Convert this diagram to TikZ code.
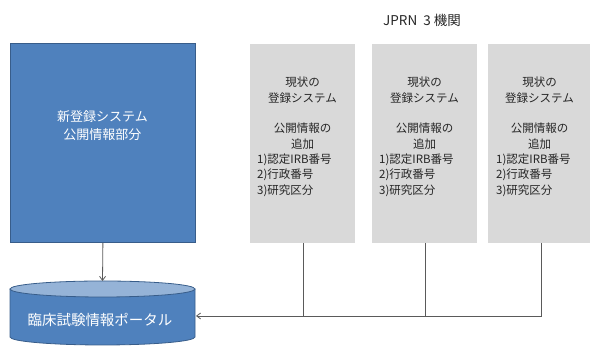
\documentclass[tikz,border=0pt]{standalone}
\usepackage{fontspec}
\setmainfont{Noto Sans CJK JP}
\usetikzlibrary{arrows.meta}
\definecolor{ofblue}{HTML}{4F81BD}
\definecolor{ofblueline}{HTML}{385D8A}
\definecolor{oftop}{HTML}{95B3D7}
\definecolor{grayfill}{HTML}{D9D9D9}
\definecolor{conn}{HTML}{5A5A5A}
\tikzset{
  x=1pt, y=1pt,
  graybox/.style={fill=grayfill, draw=none, inner sep=0pt, anchor=south west},
  graytxt/.style={font=\fontsize{11.5}{16}\selectfont, align=center, inner sep=0pt, text=black!85},
  listtxt/.style={font=\fontsize{11.5}{15.5}\selectfont, align=left, inner sep=0pt, anchor=west, text=black!85},
  connector/.style={draw=conn, line width=0.8pt},
  tip/.style={-{Straight Barb[length=4pt,width=6pt]}}
}
\begin{document}
\begin{tikzpicture}
\useasboundingbox (0,0) rectangle (590,347);
% blue box
\node[fill=ofblue, draw=ofblueline, line width=0.8pt, minimum width=185pt, minimum height=199pt, inner sep=0pt, anchor=south west] (newsys) at (10,104) {};
\node[font=\fontsize{13}{18}\selectfont, text=white, align=center, inner sep=0pt] (newtxt) at (102.5,221) {新登録システム\\公開情報部分};
% title
\node[font=\fontsize{13.5}{15}\selectfont, text=black!85, inner sep=0pt] (title) at (422,327) {JPRN\ \ 3\ 機関};
% gray boxes
\node[graybox, minimum width=105pt, minimum height=199pt] (b1) at (250,104) {};
\node[graybox, minimum width=105pt, minimum height=199pt] (b2) at (372,104) {};
\node[graybox, minimum width=104pt, minimum height=199pt] (b3) at (488,104) {};
\foreach \b/\cx/\lx in {b1/302.5/257, b2/424.5/379, b3/539.5/496}{
  \node[graytxt] (\b t1) at (\cx,256.5) {現状の\\登録システム};
  \node[graytxt] (\b t2) at (\cx,211) {公開情報の\\追加};
  \node[listtxt] (\b t3) at (\lx,172) {1)認定IRB番号\\2)行政番号\\3)研究区分};
}
% cylinder
\fill[ofblue] (10,58) -- (10,10) arc[start angle=180, end angle=360, x radius=92.5, y radius=8] -- (195,58) -- cycle;
\draw[ofblueline, line width=0.8pt] (10,58) -- (10,10) arc[start angle=180, end angle=360, x radius=92.5, y radius=8] -- (195,58);
\draw[ofblueline, line width=0.8pt, fill=oftop] (102.5,58) ellipse[x radius=92.5, y radius=8];
\node[font=\fontsize{14.5}{17}\selectfont, text=white, inner sep=0pt] (portal) at (100,27) {臨床試験情報ポータル};
\coordinate (cyltop) at (102.5,66);
\coordinate (cylside) at (196,31);
% connectors
\draw[connector, tip] (newsys.south) -- (cyltop);
\draw[connector] ([xshift=0.5pt]b1.south) -- ([xshift=0.5pt]b1.south |- cylside);
\draw[connector] ([xshift=0.5pt]b2.south) -- ([xshift=0.5pt]b2.south |- cylside);
\draw[connector, tip] ([xshift=1.5pt]b3.south) |- (cylside);
\end{tikzpicture}
\end{document}
